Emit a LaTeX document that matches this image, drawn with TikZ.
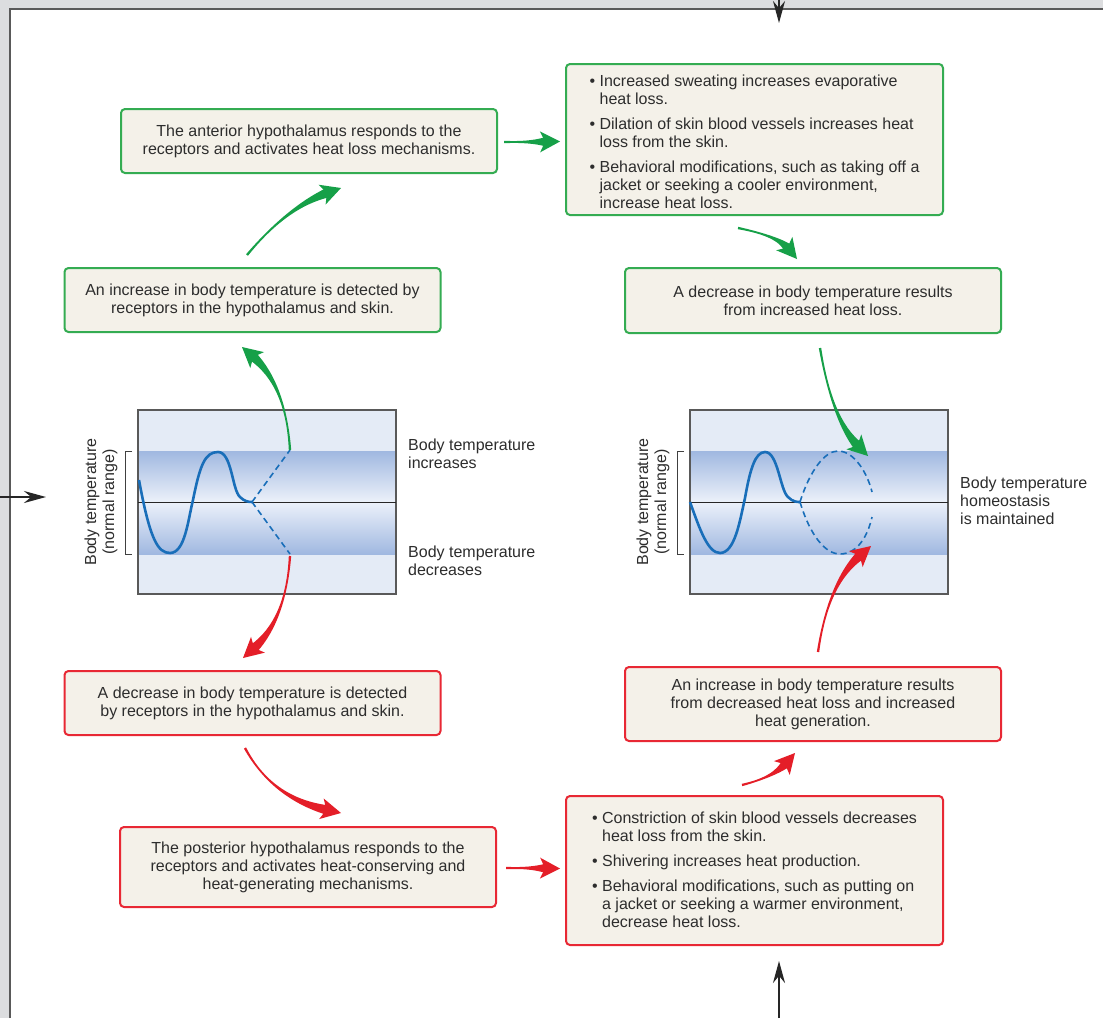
\documentclass[tikz,border=0pt]{standalone}
\usepackage{fontspec}
\setmainfont{Liberation Sans}
\usetikzlibrary{calc,arrows.meta}
\usepackage{xcolor}

\definecolor{panelgray}{RGB}{220,221,223}
\definecolor{boxfill}{RGB}{244,241,233}
\definecolor{textgray}{RGB}{45,45,45}
\definecolor{gbord}{RGB}{52,172,82}
\definecolor{rbord}{RGB}{232,40,52}
\definecolor{garrow}{RGB}{22,160,72}
\definecolor{rarrow}{RGB}{228,30,40}
\definecolor{curveblue}{RGB}{25,110,185}
\definecolor{graphbg}{RGB}{228,235,246}
\definecolor{bandblue}{RGB}{160,184,224}
\definecolor{bandlight}{RGB}{236,241,250}

% tapered curved arrow: colour, start, control, tip
\newcommand{\taparrow}[4]{%
  \path ($(#4)!20pt!(#3)$) coordinate (tb)
        ($(#4)!14pt!(#3)$) coordinate (te)
        ($(#4)!15pt!(#3)$) coordinate (tn)
        ($(#2)!1.2pt!90:(#3)$) coordinate (ts1)
        ($(#2)!1.2pt!-90:(#3)$) coordinate (ts2)
        ($(te)!4.8pt!90:(#3)$) coordinate (te1)
        ($(te)!4.8pt!-90:(#3)$) coordinate (te2)
        ($(tb)!10.5pt!90:(#3)$) coordinate (th1)
        ($(tb)!10.5pt!-90:(#3)$) coordinate (th2);
  \fill[#1] (ts1) .. controls ($(ts1)!0.667!(#3)$) and ($(te2)!0.667!(#3)$) .. (te2)
    -- (te1) .. controls ($(te1)!0.667!(#3)$) and ($(ts2)!0.667!(#3)$) .. (ts2) -- cycle;
  \fill[#1] (#4) -- (th1) -- (tn) -- (th2) -- cycle;
}

\begin{document}
\begin{tikzpicture}[x=1pt,y=-1pt,
    infobox/.style={draw=#1, line width=2pt, rounded corners=4pt, fill=boxfill,
      text=textgray, align=center, inner sep=0pt,
      font=\fontsize{16}{18}\selectfont},
    gbox/.style={infobox=gbord, minimum width=376pt, minimum height=64pt},
    rbox/.style={infobox=rbord, minimum width=376pt, minimum height=64pt},
    lbl/.style={text=textgray, align=left, anchor=west, inner sep=0pt,
      font=\fontsize{16}{18}\selectfont},
    feed/.style={line width=2pt, black!85, -{Stealth[length=22pt,width=12pt]}},
    temp/.style={curveblue, line width=2.6pt},
    tempdash/.style={curveblue, line width=1.6pt, dash pattern=on 6pt off 4pt}]

  \useasboundingbox (0,0) rectangle (1103,1018);

  % Panneau
  \fill[panelgray] (0,0) rectangle (1103,1018);
  \fill[white] (10,9) rectangle (1103,1018);
  \draw[line width=2pt, black!65] (10,1018) -- (10,9) -- (1103,9);

  % Graphes
  \foreach \gx in {138,690} {
    \begin{scope}[shift={(\gx,410)}]
      \fill[graphbg] (0,0) rectangle (258,184);
      \shade[top color=bandblue, bottom color=bandlight] (0,41) rectangle (258,92);
      \shade[top color=bandlight, bottom color=bandblue] (0,92) rectangle (258,144);
      \draw[line width=1.5pt, black!65] (0,0) rectangle (258,184);
      \draw[line width=1pt, black!85] (0,92) -- (258,92);
      \draw[line width=1pt, black!75] (-6,41) -- (-13,41) -- (-13,144) -- (-6,144);
      \node[rotate=90, align=center, text=textgray, inner sep=0pt,
        font=\fontsize{16}{18}\selectfont] (ylab\gx) at (-37,92)
        {Body temperature\\(normal range)};
    \end{scope}
  }

  % Courbe gauche
  \begin{scope}[shift={(138,410)}]
    \draw[temp] (1,70) .. controls (12,130) and (20,143) .. (32,143)
      .. controls (47,143) and (50,110) .. (55,90)
      .. controls (62,55) and (67,42) .. (80,42)
      .. controls (94,42) and (94,80) .. (102,87)
      .. controls (106,91) and (110,92) .. (114,92);
    \draw[tempdash] (114,92) -- (152,40);
    \draw[tempdash] (114,92) -- (152,144);
  \end{scope}

  % Courbe droite
  \begin{scope}[shift={(690,410)}]
    \draw[temp] (0,92) .. controls (10,120) and (18,143) .. (30,143)
      .. controls (45,143) and (50,110) .. (55,88)
      .. controls (60,60) and (65,42) .. (75,42)
      .. controls (88,42) and (90,80) .. (98,87)
      .. controls (103,92) and (107,92) .. (110,92);
    \draw[tempdash] (110,92) .. controls (120,60) and (135,41) .. (148,41)
      .. controls (165,41) and (178,65) .. (182,82);
    \draw[tempdash] (110,92) .. controls (120,125) and (135,144) .. (150,144)
      .. controls (168,144) and (178,125) .. (182,107);
  \end{scope}

  \node[lbl] (incLbl) at (408,454) {Body temperature\\increases};
  \node[lbl] (decLbl) at (408,561) {Body temperature\\decreases};
  \node[lbl] (homLbl) at (960,501) {Body temperature\\homeostasis\\is maintained};

  % Boites vertes
  \node[gbox] (ant) at (309,141)
    {The anterior hypothalamus responds to the\\receptors and activates heat loss mechanisms.};
  \node[gbox] (detUp) at (252.5,300)
    {An increase in body temperature is detected by\\receptors in the hypothalamus and skin.};
  \node[gbox, minimum height=65pt] (decRes) at (813,300.5)
    {A decrease in body temperature results\\from increased heat loss.};
  \node[gbox, minimum width=377pt, minimum height=151pt] (effUp) at (754.5,139.5)
    {\raisebox{-4pt}[\height][\depth]{\begin{tabular}{@{}l@{\hspace{4.5pt}}l@{}}
      \textbullet & Increased sweating increases evaporative\\
                  & heat loss.\\[7pt]
      \textbullet & Dilation of skin blood vessels increases heat\\
                  & loss from the skin.\\[7pt]
      \textbullet & Behavioral modifications, such as taking off a\\
                  & jacket or seeking a cooler environment,\\
                  & increase heat loss.
    \end{tabular}}};

  % Boites rouges
  \node[rbox] (detDown) at (252.5,703)
    {A decrease in body temperature is detected\\by receptors in the hypothalamus and skin.};
  \node[rbox, minimum height=80pt] (post) at (308,867)
    {The posterior hypothalamus responds to the\\receptors and activates heat-conserving and\\heat-generating mechanisms.};
  \node[rbox, minimum height=74pt] (incRes) at (813,704)
    {An increase in body temperature results\\from decreased heat loss and increased\\heat generation.};
  \node[rbox, minimum width=377pt, minimum height=149pt] (effDown) at (754.5,870.5)
    {\raisebox{-1.5pt}[\height][\depth]{\begin{tabular}{@{}l@{\hspace{4.5pt}}l@{}}
      \textbullet & Constriction of skin blood vessels decreases\\
                  & heat loss from the skin.\\[7pt]
      \textbullet & Shivering increases heat production.\\[7pt]
      \textbullet & Behavioral modifications, such as putting on\\
                  & a jacket or seeking a warmer environment,\\
                  & decrease heat loss.
    \end{tabular}}};

  % Fleches vertes
  \coordinate (gaS) at (290,450); \coordinate (gaC) at (286,385); \coordinate (gaT) at (242,347);
  \coordinate (gbS) at (247,255); \coordinate (gbC) at (287,207); \coordinate (gbT) at (341,188);
  \coordinate (gcS) at ($(ant.east)+(6,1)$); \coordinate (gcC) at (530,142); \coordinate (gcT) at ($(effUp.west)+(-5,2)$);
  \coordinate (gdS) at (738,228); \coordinate (gdC) at (778,236); \coordinate (gdT) at (797,259);
  \coordinate (geS) at (820,348); \coordinate (geC) at (832,420); \coordinate (geT) at (868,456);
  \taparrow{garrow}{gaS}{gaC}{gaT}
  \taparrow{garrow}{gbS}{gbC}{gbT}
  \taparrow{garrow}{gcS}{gcC}{gcT}
  \taparrow{garrow}{gdS}{gdC}{gdT}
  \taparrow{garrow}{geS}{geC}{geT}

  % Fleches rouges
  \coordinate (raS) at (290,556); \coordinate (raC) at (286,620); \coordinate (raT) at (243,658);
  \coordinate (rbS) at (245,748); \coordinate (rbC) at (272,798); \coordinate (rbT) at (341,813);
  \coordinate (rcS) at ($(post.east)+(9,1)$); \coordinate (rcC) at (530,868); \coordinate (rcT) at ($(effDown.west)+(-5,-2)$);
  \coordinate (rdS) at (742,785); \coordinate (rdC) at (774,777); \coordinate (rdT) at (795,753);
  \coordinate (reS) at (818,652); \coordinate (reC) at (828,583); \coordinate (reT) at (871,546);
  \taparrow{rarrow}{raS}{raC}{raT}
  \taparrow{rarrow}{rbS}{rbC}{rbT}
  \taparrow{rarrow}{rcS}{rcC}{rcT}
  \taparrow{rarrow}{rdS}{rdC}{rdT}
  \taparrow{rarrow}{reS}{reC}{reT}

  % Entrees
  \coordinate (topIn) at (779,0);    \coordinate (topTip) at (779,23);
  \coordinate (leftIn) at (0,497);   \coordinate (leftTip) at (46,497);
  \coordinate (botIn) at (779,1018); \coordinate (botTip) at (779,961);
  \draw[feed] (topIn) -- (topTip);
  \draw[feed] (leftIn) -- (leftTip);
  \draw[feed] (botIn) -- (botTip);
\end{tikzpicture}
\end{document}
